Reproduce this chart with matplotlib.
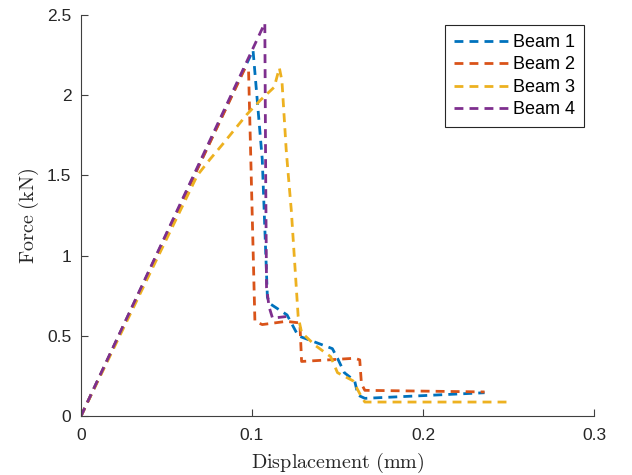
import numpy as np
import matplotlib
matplotlib.use('Agg')
import matplotlib.pyplot as plt

# Beam data (displacement in mm, force in kN)
b1_x = [0, 0.1006, 0.106, 0.109, 0.1105, 0.1205, 0.127, 0.147, 0.150, 0.154, 0.160, 0.162, 0.166, 0.236]
b1_y = [0, 2.28, 1.60, 0.74, 0.70, 0.63, 0.50, 0.42, 0.36, 0.27, 0.22, 0.13, 0.11, 0.145]

b2_x = [0, 0.096, 0.098, 0.1017, 0.106, 0.120, 0.128, 0.129, 0.145, 0.160, 0.163, 0.164, 0.166, 0.236]
b2_y = [0, 2.17, 2.15, 0.59, 0.57, 0.59, 0.58, 0.34, 0.35, 0.36, 0.35, 0.20, 0.16, 0.15]

b3_x = [0, 0.068, 0.0754, 0.0825, 0.097, 0.105, 0.113, 0.116, 0.1175, 0.120, 0.121, 0.123, 0.127,
        0.129, 0.137, 0.146, 0.150, 0.159, 0.164, 0.166, 0.249]
b3_y = [0, 1.50, 1.60, 1.69, 1.88, 1.97, 2.05, 2.17, 2.09, 1.66, 1.53, 1.28, 0.62,
        0.52, 0.44, 0.37, 0.27, 0.22, 0.12, 0.087, 0.087]

b4_x = [0, 0.1075, 0.108, 0.1085, 0.110, 0.112, 0.120]
b4_y = [0, 2.45, 1.50, 0.80, 0.68, 0.61, 0.62]

labels = ['Beam 1', 'Beam 2', 'Beam 3', 'Beam 4']
colors = ['#0072BD', '#D95319', '#EDB120', '#7E2F8E']

plt.rcParams['mathtext.fontset'] = 'cm'

fig = plt.figure(figsize=(6.32, 4.75), dpi=100)
ax = fig.add_axes([81/632, 59/475, 513/632, 401/475])

for xs, ys, lab, c in zip([b1_x, b2_x, b3_x, b4_x], [b1_y, b2_y, b3_y, b4_y], labels, colors):
    ax.plot(xs, ys, '--', color=c, lw=2, label=lab, dashes=(3.2, 2.2))

ax.set_xlim(0, 0.3)
ax.set_ylim(0, 2.5)
ax.set_xticks([0, 0.1, 0.2, 0.3])
ax.set_xticklabels(['0', '0.1', '0.2', '0.3'])
ax.set_yticks([0, 0.5, 1, 1.5, 2, 2.5])
ax.set_yticklabels(['0', '0.5', '1', '1.5', '2', '2.5'])

for s in ['top', 'right']:
    ax.spines[s].set_visible(False)
for s in ['left', 'bottom']:
    ax.spines[s].set_color('#404040')
    ax.spines[s].set_linewidth(0.8)
ax.tick_params(direction='in', length=5, width=0.8, color='#404040',
               labelsize=12.5, labelcolor='#262626')
ax.tick_params(axis='x', pad=9)
ax.tick_params(axis='y', pad=7)
for t in ax.get_xticklabels() + ax.get_yticklabels():
    t.set_family('Liberation Sans')

ax.set_xlabel(r'$\mathrm{Displacement\ (mm)}$', fontsize=14.5, color='#262626', labelpad=5)
ax.set_ylabel(r'$\mathrm{Force\ (kN)}$', fontsize=14.5, color='#262626', labelpad=4)

leg = ax.legend(loc='upper right', bbox_to_anchor=(0.98, 0.975),
                prop={'family': 'Liberation Sans', 'size': 13},
                fancybox=False, framealpha=1, edgecolor='#262626',
                handlelength=3.0, handletextpad=0.25, borderpad=0.5, labelspacing=0.3,
                borderaxespad=0)
leg.get_frame().set_linewidth(0.8)

plt.savefig('out.png', dpi=100)
